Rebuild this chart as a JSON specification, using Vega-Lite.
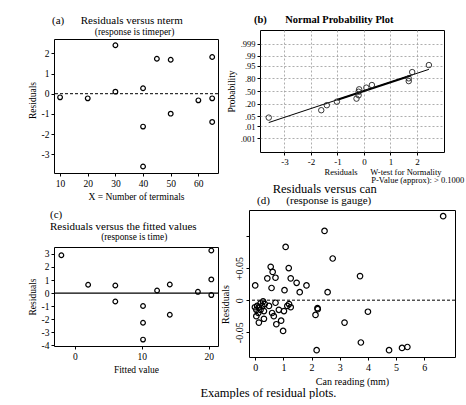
{
  "$schema": "https://vega.github.io/schema/vega-lite/v6.json",
  "background": "white",
  "padding": {"left": 26, "top": 14, "right": 0, "bottom": 0},
  "title": {"text": "Examples of residual plots.", "orient": "bottom", "anchor": "middle", "fontSize": 12.5, "fontWeight": "normal", "offset": 0, "dx": 23},
  "datasets": {
    "a": [
      {"nterm": 10, "resid": -0.18}, {"nterm": 20, "resid": -0.23}, {"nterm": 30, "resid": 2.40}, {"nterm": 30, "resid": 0.10},
      {"nterm": 40, "resid": 0.27}, {"nterm": 40, "resid": -1.63}, {"nterm": 40, "resid": -3.61}, {"nterm": 45, "resid": 1.73},
      {"nterm": 50, "resid": 1.68}, {"nterm": 50, "resid": -0.99}, {"nterm": 60, "resid": -0.33}, {"nterm": 65, "resid": 1.82},
      {"nterm": 65, "resid": -0.23}, {"nterm": 65, "resid": -1.40}
    ],
    "b": [
      {"resid": -3.59, "z": -1.745}, {"resid": -1.61, "z": -1.26}, {"resid": -1.40, "z": -0.93}, {"resid": -1.02, "z": -0.70},
      {"resid": -0.28, "z": -0.50}, {"resid": -0.20, "z": -0.28}, {"resid": -0.20, "z": -0.05}, {"resid": -0.18, "z": 0.11},
      {"resid": 0.09, "z": 0.22}, {"resid": 0.30, "z": 0.39}, {"resid": 1.69, "z": 0.65}, {"resid": 1.69, "z": 0.83},
      {"resid": 1.82, "z": 1.24}, {"resid": 2.45, "z": 1.70}
    ],
    "bline": [
      {"part": "full", "resid": -3.59, "z": -2.07}, {"part": "full", "resid": 2.45, "z": 1.42},
      {"part": "mid", "resid": -1.0, "z": -0.57}, {"part": "mid", "resid": 1.75, "z": 1.0}
    ],
    "c": [
      {"fitted": -2.0, "resid": 2.90}, {"fitted": 2.0, "resid": 0.64}, {"fitted": 6.06, "resid": 0.58}, {"fitted": 6.06, "resid": -0.64},
      {"fitted": 10.2, "resid": -0.99}, {"fitted": 10.2, "resid": -2.27}, {"fitted": 10.2, "resid": -3.56}, {"fitted": 12.3, "resid": 0.20},
      {"fitted": 14.2, "resid": 0.66}, {"fitted": 14.2, "resid": -1.66}, {"fitted": 18.4, "resid": 0.10}, {"fitted": 20.4, "resid": 3.26},
      {"fitted": 20.4, "resid": 1.05}, {"fitted": 20.4, "resid": -0.15}
    ],
    "d": [
      {"can": 6.67, "resid": 0.131}, {"can": 2.46, "resid": 0.108}, {"can": 1.08, "resid": 0.083}, {"can": 2.75, "resid": 0.065},
      {"can": 0.55, "resid": 0.052}, {"can": 0.62, "resid": 0.044}, {"can": 1.19, "resid": 0.050}, {"can": 0.43, "resid": 0.034},
      {"can": 0.72, "resid": 0.035}, {"can": 1.26, "resid": 0.034}, {"can": 1.47, "resid": 0.027}, {"can": 1.82, "resid": 0.023},
      {"can": 3.72, "resid": 0.0375}, {"can": 0.0, "resid": 0.023}, {"can": 0.58, "resid": 0.019}, {"can": 1.04, "resid": 0.0156},
      {"can": 1.58, "resid": 0.0125}, {"can": 2.57, "resid": 0.0125},
      {"can": 0.72, "resid": -0.004}, {"can": 0.28, "resid": -0.002}, {"can": 0.19, "resid": -0.005}, {"can": 0.07, "resid": -0.009},
      {"can": -0.01, "resid": -0.011}, {"can": 0.13, "resid": -0.011}, {"can": 0.25, "resid": -0.009}, {"can": 0.34, "resid": -0.006},
      {"can": 0.49, "resid": -0.009}, {"can": 0.04, "resid": -0.015}, {"can": 0.19, "resid": -0.015}, {"can": 0.31, "resid": -0.017},
      {"can": 0.11, "resid": -0.020}, {"can": 0.04, "resid": -0.025}, {"can": 0.31, "resid": -0.029}, {"can": 0.13, "resid": -0.035},
      {"can": 0.60, "resid": -0.020}, {"can": 0.66, "resid": -0.025}, {"can": 0.84, "resid": -0.015}, {"can": 1.02, "resid": -0.017},
      {"can": 1.14, "resid": -0.009}, {"can": 1.26, "resid": -0.011}, {"can": 1.20, "resid": -0.006}, {"can": 0.75, "resid": -0.0375},
      {"can": 0.92, "resid": -0.032}, {"can": 0.99, "resid": -0.048},
      {"can": 2.21, "resid": -0.0125}, {"can": 2.22, "resid": -0.014}, {"can": 2.14, "resid": -0.023}, {"can": 3.17, "resid": -0.035},
      {"can": 4.0, "resid": -0.018}, {"can": 3.75, "resid": -0.066}, {"can": 2.18, "resid": -0.078}, {"can": 4.75, "resid": -0.078},
      {"can": 5.21, "resid": -0.0745}, {"can": 5.40, "resid": -0.073}
    ],
    "one": [{}],
    "none": []
  },
  "spacing": -1,
  "hconcat": [
    {
      "bounds": "flush",
      "spacing": 0,
      "vconcat": [
        {"width": 164, "height": 9, "data": {"name": "none"}, "mark": {"type": "point"}, "view": {"stroke": null}},
        {
          "bounds": "flush",
          "spacing": 74,
          "vconcat": [
            {
              "width": 164,
              "height": 134,
              "title": {"text": "(a)\u00a0\u00a0\u00a0\u00a0\u00a0\u00a0Residuals versus nterm", "subtitle": "\u200b\u00a0\u00a0\u00a0\u00a0\u00a0\u00a0\u00a0\u00a0\u00a0\u00a0\u00a0\u00a0\u00a0\u00a0\u00a0\u00a0\u00a0\u00a0(response is timeper)", "anchor": "start", "frame": "group", "dx": -2, "fontSize": 11, "subtitleFontSize": 9.5, "subtitlePadding": 1, "offset": 3},
              "layer": [
                {
                  "data": {"name": "a"},
                  "mark": {"type": "point"},
                  "encoding": {
                    "x": {"field": "nterm", "type": "quantitative", "scale": {"domain": [7.8, 67.1], "nice": false, "zero": false}, "axis": {"values": [10, 20, 30, 40, 50, 60], "tickCount": 50, "title": "X = Number of terminals", "labelOverlap": false, "labelExpr": "'' + datum.value"}},
                    "y": {"field": "resid", "type": "quantitative", "scale": {"domain": [-3.93, 2.71], "nice": false, "zero": false}, "axis": {"values": [-3, -2, -1, 0, 1, 2], "tickCount": 50, "title": "Residuals", "titleY": 61, "labelOverlap": false, "labelExpr": "'' + datum.value"}}
                  }
                },
                {
                  "data": {"name": "one"},
                  "mark": {"type": "rule", "color": "black", "strokeDash": [3, 2], "strokeWidth": 1},
                  "encoding": {"y": {"datum": 0}}
                }
              ]
            },
            {
              "width": 164,
              "height": 99,
              "title": {"text": ["(c)", "Residuals versus the fitted values"], "subtitle": "\u200b\u00a0\u00a0\u00a0\u00a0\u00a0\u00a0\u00a0\u00a0\u00a0\u00a0\u00a0\u00a0\u00a0\u00a0\u00a0\u00a0\u00a0\u00a0\u00a0\u00a0\u00a0\u00a0(response is time)", "anchor": "start", "frame": "group", "dx": -4, "fontSize": 11, "lineHeight": 12.5, "subtitleFontSize": 9.3, "subtitlePadding": 1, "offset": 3},
              "layer": [
                {
                  "data": {"name": "c"},
                  "mark": {"type": "point"},
                  "encoding": {
                    "x": {"field": "fitted", "type": "quantitative", "scale": {"domain": [-3.1, 21.4], "nice": false, "zero": false}, "axis": {"values": [0, 10, 20], "tickCount": 50, "title": "Fitted value", "labelOverlap": false, "labelExpr": "'' + datum.value"}},
                    "y": {"field": "resid", "type": "quantitative", "scale": {"domain": [-4.05, 3.53], "nice": false, "zero": false}, "axis": {"values": [-4, -3, -2, -1, 0, 1, 2, 3], "tickCount": 50, "title": "Residuals", "labelOverlap": false, "labelExpr": "'' + datum.value"}}
                  }
                },
                {
                  "data": {"name": "one"},
                  "mark": {"type": "rule", "color": "black", "strokeWidth": 1.3},
                  "encoding": {"y": {"datum": 0}}
                }
              ]
            }
          ]
        }
      ]
    },
    {
      "bounds": "flush",
      "spacing": 58,
      "center": true,
      "vconcat": [
        {
          "width": 184,
          "height": 122,
          "title": {"text": "(b)\u00a0\u00a0\u00a0\u00a0\u00a0\u00a0\u00a0Normal Probability Plot", "anchor": "start", "frame": "group", "dx": -6, "fontSize": 10.5, "fontWeight": "bold", "offset": 5},
          "layer": [
            {
              "data": {"name": "bline"},
              "mark": {"type": "line", "color": "black"},
              "encoding": {
                "x": {"field": "resid", "type": "quantitative", "scale": {"domain": [-3.92, 3.02], "nice": false, "zero": false},
                  "axis": {"values": [-3, -2, -1, 0, 1, 2], "tickCount": 50, "grid": true, "gridDash": [2, 2], "gridColor": "#999999", "gridWidth": 0.8, "labelOverlap": false, "labelExpr": "'' + datum.value", "labelFontSize": 9,
                    "title": ["Residuals\u00a0\u00a0\u00a0\u00a0\u00a0\u00a0W-test for Normality", "\u200b\u00a0\u00a0\u00a0\u00a0\u00a0\u00a0\u00a0\u00a0\u00a0\u00a0\u00a0\u00a0\u00a0\u00a0\u00a0\u00a0\u00a0\u00a0\u00a0\u00a0\u00a0\u00a0P-Value (approx): > 0.1000"],
                    "titleFontSize": 8.5, "titleAnchor": "start", "titleAlign": "left", "titleBaseline": "alphabetic", "titleX": 64, "titleY": 22, "titleLineHeight": 8.5}},
                "y": {"field": "z", "type": "quantitative", "scale": {"domain": [-4, 4], "nice": false, "zero": false},
                  "axis": {"values": [-3.09, -2.326, -1.645, -0.842, 0, 0.842, 1.645, 2.326, 3.09], "tickCount": 50, "grid": true, "gridDash": [2, 2], "gridColor": "#999999", "gridWidth": 0.8, "labelOverlap": false, "labelFontSize": 8.5, "title": "Probability", "titleFontSize": 9.5,
                    "labelExpr": "datum.value > 3 ? '.999' : datum.value > 2 ? '.99' : datum.value > 1.5 ? '.95' : datum.value > 0.5 ? '.80' : datum.value > -0.5 ? '.50' : datum.value > -1 ? '.20' : datum.value > -2 ? '.05' : datum.value > -3 ? '.01' : '.001'"}},
                "detail": {"field": "part", "type": "nominal"},
                "strokeWidth": {"field": "part", "type": "nominal", "scale": {"domain": ["full", "mid"], "range": [1, 2]}, "legend": null}
              }
            },
            {
              "data": {"name": "b"},
              "mark": {"type": "point", "size": 30, "strokeWidth": 0.9, "stroke": "#222222"},
              "encoding": {
                "x": {"field": "resid", "type": "quantitative"},
                "y": {"field": "z", "type": "quantitative"}
              }
            }
          ]
        },
        {
          "width": 206,
          "height": 147,
          "title": {"text": "\u200b\u00a0\u00a0\u00a0\u00a0\u00a0Residuals versus can", "subtitle": "(d)\u00a0\u00a0\u00a0\u00a0\u00a0\u00a0(response is gauge)", "anchor": "start", "frame": "group", "dx": 8, "fontSize": 12.5, "subtitleFontSize": 11, "subtitlePadding": 0, "offset": 4},
          "layer": [
            {
              "data": {"name": "d"},
              "mark": {"type": "point", "size": 30},
              "encoding": {
                "x": {"field": "can", "type": "quantitative", "scale": {"domain": [-0.22, 7.09], "nice": false, "zero": false}, "axis": {"values": [0, 1, 2, 3, 4, 5, 6], "tickCount": 50, "title": "Can reading (mm)", "labelOverlap": false, "labelFontSize": 10, "titleFontSize": 10, "labelExpr": "'' + datum.value"}},
                "y": {"field": "resid", "type": "quantitative", "scale": {"domain": [-0.0886, 0.1406], "nice": false, "zero": false}, "axis": {"values": [-0.05, 0, 0.05, 0.1], "tickCount": 50, "title": "Residuals", "titleY": 94, "labelOverlap": false, "labelAngle": -90, "labelFontSize": 10, "titleFontSize": 10, "labelExpr": "datum.value == 0.1 ? '' : datum.value == 0.05 ? '+0.05' : '' + datum.value"}}
              }
            },
            {
              "data": {"name": "one"},
              "mark": {"type": "rule", "color": "black", "strokeDash": [3, 2], "strokeWidth": 1},
              "encoding": {"y": {"datum": 0}}
            }
          ]
        }
      ]
    }
  ],
  "config": {
    "font": "Liberation Serif",
    "view": {"stroke": "black", "strokeWidth": 1},
    "axis": {"grid": false, "domain": false, "tickSize": 3, "tickColor": "black", "tickWidth": 1, "labelFont": "Liberation Serif", "labelFontSize": 9.5, "labelColor": "black", "labelPadding": 2, "labelOverlap": false, "labelFlush": false, "titleFont": "Liberation Serif", "titleFontSize": 9.5, "titleFontWeight": "normal", "titleColor": "black", "titlePadding": 4},
    "title": {"font": "Liberation Serif", "subtitleFont": "Liberation Serif", "fontWeight": "normal", "color": "black", "subtitleColor": "black"},
    "point": {"filled": false, "shape": "circle", "stroke": "black", "strokeWidth": 1.2, "size": 22, "opacity": 1}
  }
}
